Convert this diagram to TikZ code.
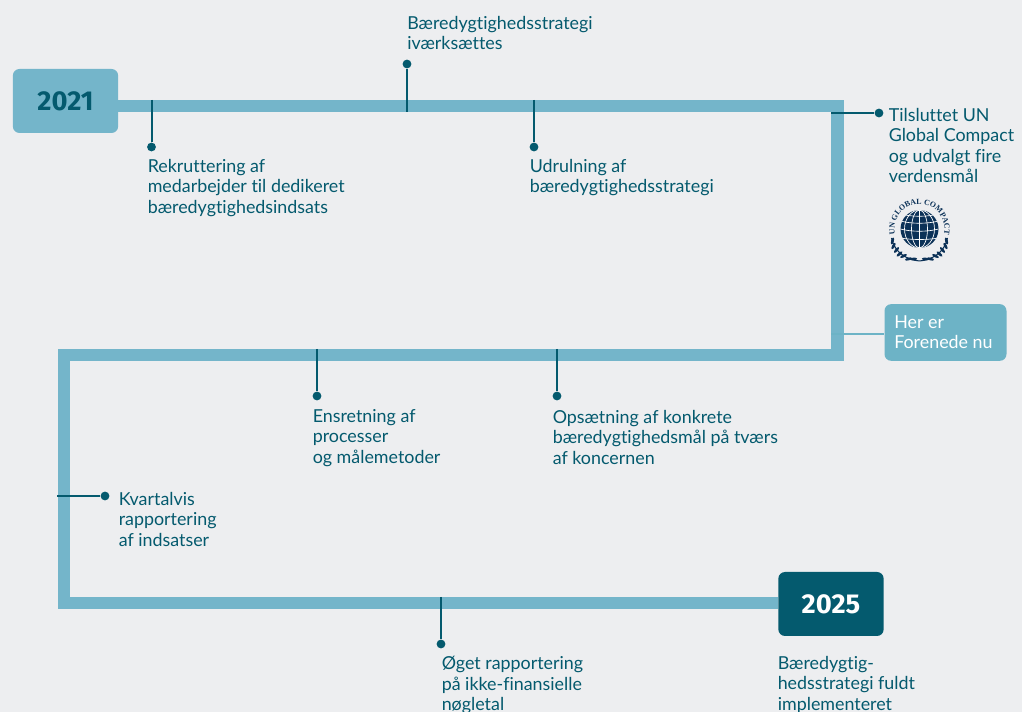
\documentclass[tikz,border=0pt]{standalone}
\usepackage{fontspec}
\setmainfont[Ligatures=NoCommon]{Lato}
\newfontfamily\yearfont{Fira Sans}
\newfontfamily\logofont{Liberation Serif}
\usetikzlibrary{decorations.text}
\definecolor{bgc}{HTML}{EDEEF0}
\definecolor{barc}{HTML}{74B5CA}
\definecolor{darkc}{HTML}{045A6E}
\definecolor{chipc}{HTML}{6DB3C6}
\definecolor{navyc}{HTML}{0B3157}
\tikzset{
  x=0.75pt,y=-0.75pt,
  bar/.style={draw=barc,line width=9.4pt,line join=miter},
  stem/.style={draw=darkc,line width=1.5pt},
  dot/.style={circle,fill=darkc,inner sep=0pt,minimum size=6.6pt},
  lab/.style={anchor=north west,inner sep=0pt,align=left,text=darkc,font=\fontsize{13.4}{15.3}\selectfont},
  yearbox/.style={rounded corners=5pt,minimum width=79pt,minimum height=48pt,inner sep=0pt,font=\yearfont\bfseries\fontsize{20.5}{24}\selectfont},
}
\begin{document}
\begin{tikzpicture}
\useasboundingbox[fill=bgc] (0,0) rectangle (1022,712);
% track
\coordinate (c1) at (837.5,106);
\coordinate (c2) at (837.5,355);
\coordinate (c3) at (64,355);
\coordinate (c4) at (64,603);
\node[yearbox,fill=barc,text=darkc] (y21) at (65.5,101) {2021};
\node[yearbox,fill=darkc,text=white] (y25) at (831,604) {2025};
\draw[bar] (y21.east |- c1) -- (c1) -- (c2) -- (c3) -- (c4) -- (y25.west |- c4);
% chip
\node[rounded corners=5pt,fill=chipc,text=white,minimum width=91.5pt,minimum height=42.5pt,inner sep=0pt] (chip) at (945.5,332.5) {};
\node[lab,text=white] (chipt) at (894,315) {Her er\\Forenede nu};
\coordinate (s0) at (831,334);
\draw[draw=chipc,line width=1.2pt] (s0) -- (s0 -| chip.west);
% milestones
\node[dot] (d1) at (151.5,147) {};
\coordinate (b1) at (151.5,100);
\draw[stem] (b1) -- (d1);
\node[dot] (d2) at (407,64) {};
\coordinate (b2) at (407,112);
\draw[stem] (b2) -- (d2);
\node[dot] (d3) at (534,147) {};
\coordinate (b3) at (534,100);
\draw[stem] (b3) -- (d3);
\node[dot] (d4) at (879,113) {};
\coordinate (b4) at (831,113);
\draw[stem] (b4) -- (d4);
\node[dot] (d5) at (317,396) {};
\coordinate (b5) at (317,349);
\draw[stem] (b5) -- (d5);
\node[dot] (d6) at (557,396) {};
\coordinate (b6) at (557,349);
\draw[stem] (b6) -- (d6);
\node[dot] (d7) at (105,496) {};
\coordinate (b7) at (57,496);
\draw[stem] (b7) -- (d7);
\node[dot] (d8) at (441,644) {};
\coordinate (b8) at (441,597);
\draw[stem] (b8) -- (d8);
% labels
\node[lab] (t1) at (147.5,159) {Rekruttering af\\medarbejder til dedikeret\\bæredygtighedsindsats};
\node[lab] (t2) at (407,16) {Bæredygtighedsstrategi\\iværksættes};
\node[lab] (t3) at (529.5,159) {Udrulning af\\bæredygtighedsstrategi};
\node[lab] (t4) at (888.5,108) {Tilsluttet UN\\Global Compact\\og udvalgt fire\\verdensmål};
\node[lab] (t5) at (312.5,409) {Ensretning af\\processer\\og målemetoder};
\node[lab] (t6) at (552.5,410) {Opsætning af konkrete\\bæredygtighedsmål på tværs\\af koncernen};
\node[lab] (t7) at (118.5,492) {Kvartalvis\\rapportering\\af indsatser};
\node[lab] (t8) at (441.5,656) {Øget rapportering\\på ikke-finansielle\\nøgletal};
\node[lab] (t9) at (777.5,656) {Bæredygtig-\\hedsstrategi fuldt\\implementeret};
% UN Global Compact logo
\begin{scope}[shift={(919.5,229)}]
\fill[navyc] (0,0) circle (19);
\begin{scope}
\clip (0,0) circle (19);
\draw[white,line width=0.5pt] (0,-19) -- (0,19);
\draw[white,line width=0.5pt] (0,0) ellipse (8 and 19);
\draw[white,line width=0.5pt] (0,0) ellipse (15 and 19);
\draw[white,line width=0.5pt] (-19,0) .. controls (-8,3) and (8,3) .. (19,0);
\draw[white,line width=0.5pt] (-19,-8) .. controls (-8,-5) and (8,-5) .. (19,-8);
\draw[white,line width=0.5pt] (-19,-15) .. controls (-8,-12) and (8,-12) .. (19,-15);
\draw[white,line width=0.5pt] (-19,9) .. controls (-8,11) and (8,11) .. (19,9);
\end{scope}
\foreach \s in {1,-1}{
  \begin{scope}[xscale=\s]
  \draw[navyc,line width=0.8pt] (0,32) .. controls (12,31) and (25,24) .. (28,9);
  \foreach \a/\b/\r in {6/30/-5,11/30/-15,16/27/-25,20/25/-40,23/21/-50,26/17/-62,27/12/-75}{
    \fill[navyc,rotate around={\r:(\a,\b)}] (\a,\b) ellipse (3.6 and 1.4);
  }
  \end{scope}
}
\path[decorate,decoration={text along path,text align=center,text={|\logofont\fontsize{5.9}{6}\selectfont\bfseries\color{navyc}|UN GLOBAL COMPACT}}]
  (-23.5,8.6) arc[start angle=200,end angle=-20,x radius=25,y radius=-25];
\end{scope}
\end{tikzpicture}
\end{document}
